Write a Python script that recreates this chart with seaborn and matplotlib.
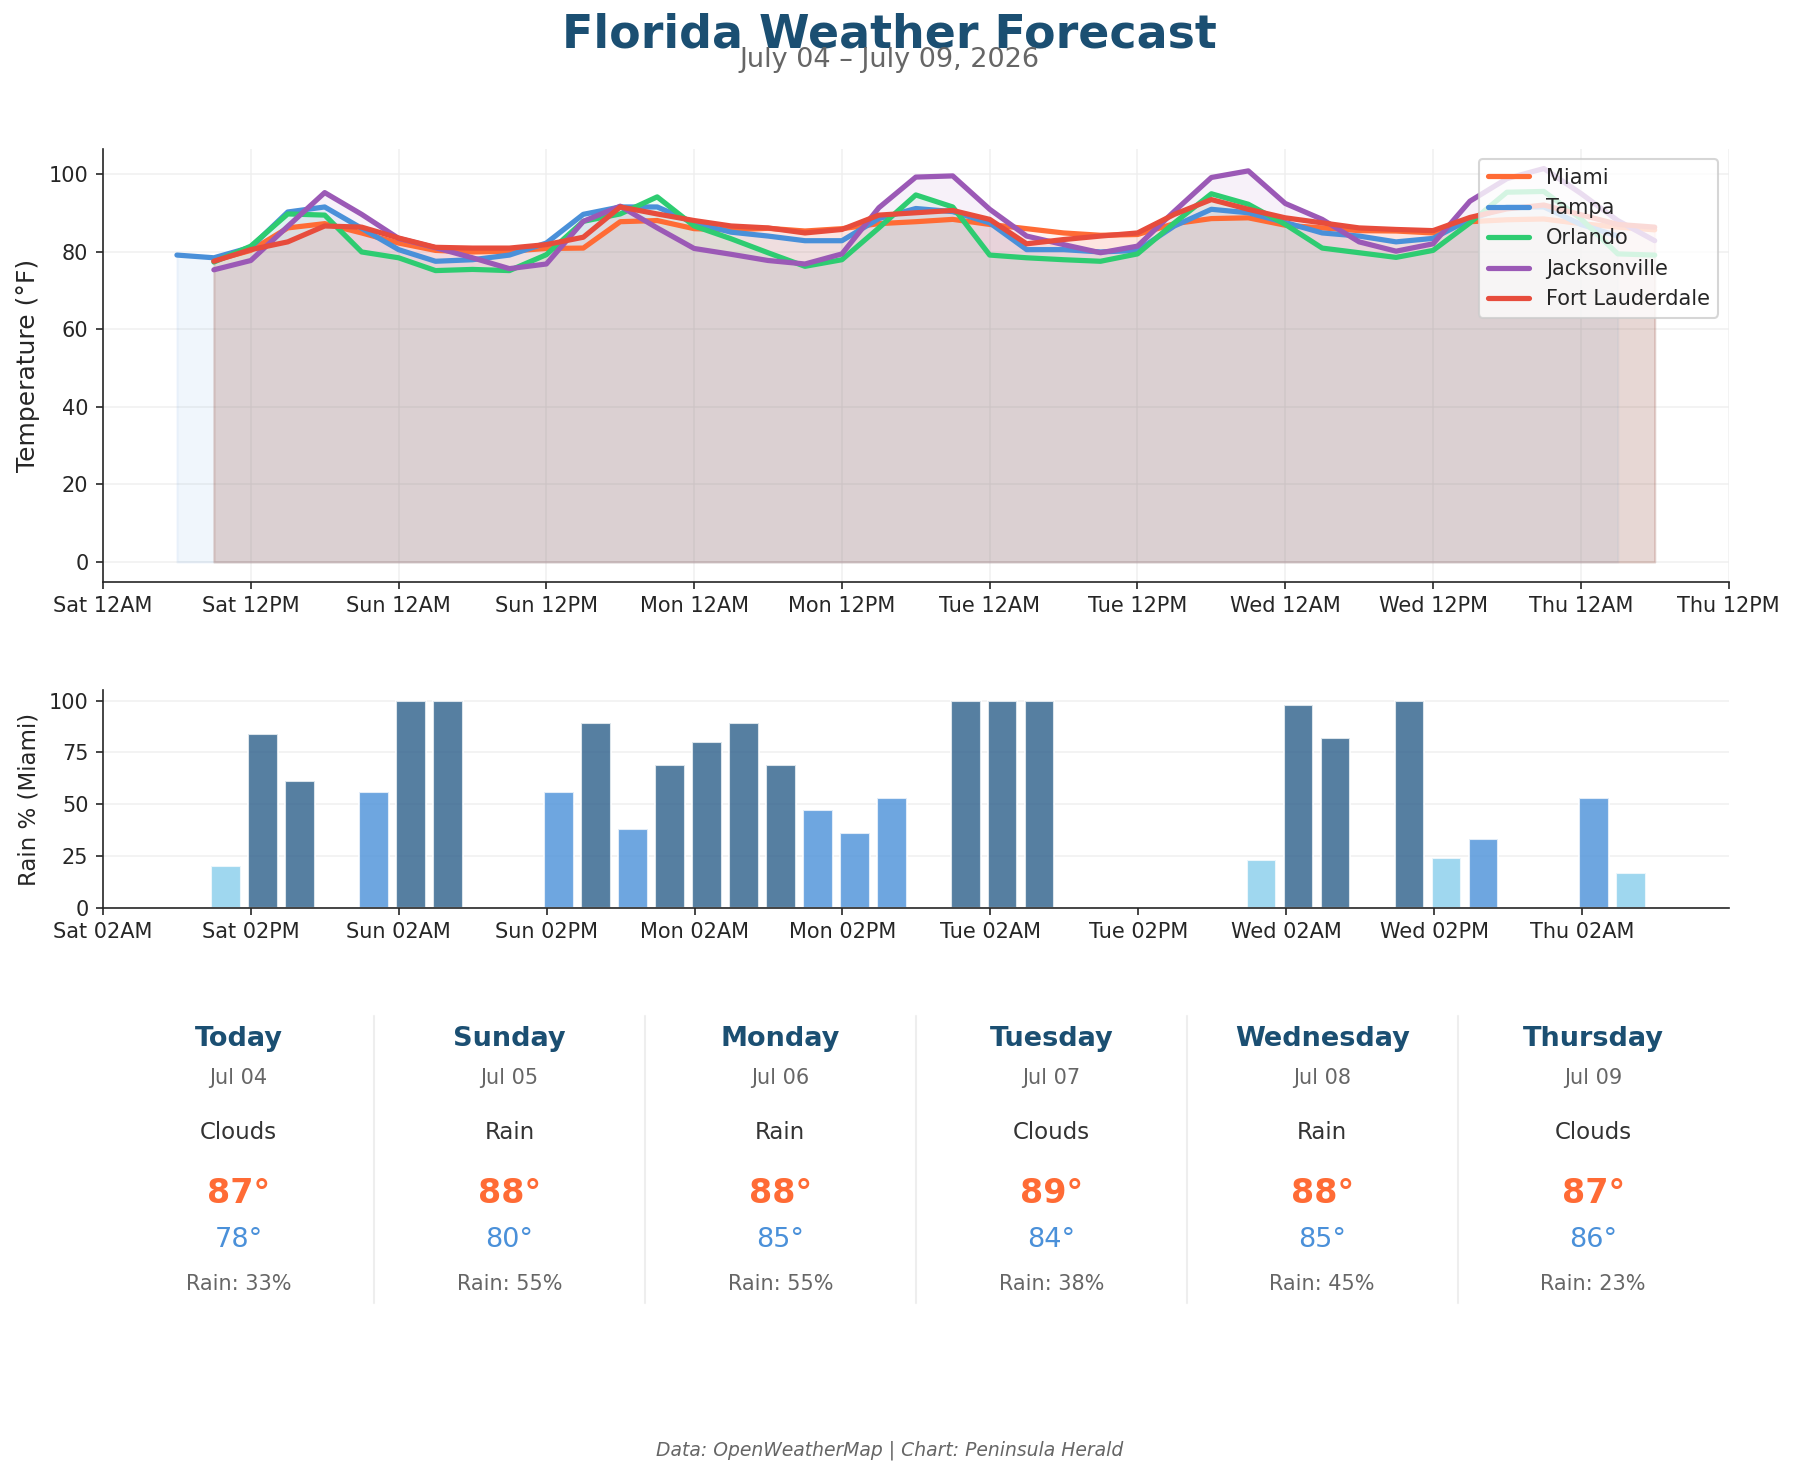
import numpy as np
import pandas as pd
import matplotlib
matplotlib.use("Agg")
import matplotlib.pyplot as plt
import seaborn as sns

# ---------------- data ----------------
cities = ["Miami", "Tampa", "Orlando", "Jacksonville", "Fort Lauderdale"]
city_colors = ["#FF6B35", "#4A90D9", "#2ECC71", "#9B59B6", "#E74C3C"]

# hours since Sat Jul 04 00:00 (3-hour forecast steps)
hours_main = list(range(9, 127, 3))      # Miami, Orlando, Jacksonville, Fort Lauderdale
hours_tampa = list(range(6, 124, 3))     # Tampa

miami = [77.7, 80.3, 86.1, 87.2, 84.8, 82.2, 80.3, 79.9, 80.1, 80.8,
         80.9, 87.7, 88.0, 85.9, 85.6, 86.0, 85.3, 85.9, 87.2, 87.7,
         88.3, 87.0, 85.9, 84.8, 84.2, 84.4, 87.2, 88.5, 88.7, 86.8,
         86.1, 85.4, 85.3, 84.8, 87.7, 88.2, 88.4, 87.2, 86.3, 85.6]
tampa = [79.1, 78.4, 81.1, 90.2, 91.5, 86.0, 80.5, 77.5, 77.9, 79.1,
         82.2, 89.6, 91.5, 91.5, 87.4, 85.0, 84.0, 82.8, 82.8, 88.5,
         91.1, 90.3, 87.4, 80.5, 80.5, 79.9, 80.3, 86.6, 90.9, 90.0,
         87.5, 84.8, 84.0, 82.5, 83.4, 88.3, 91.5, 91.5, 87.0, 84.0]
orlando = [77.3, 81.4, 89.7, 89.4, 79.9, 78.4, 75.1, 75.4, 75.1, 79.2,
           87.8, 89.7, 94.1, 86.6, 83.3, 79.7, 76.2, 77.9, 86.1, 94.6,
           91.5, 79.1, 78.4, 77.9, 77.5, 79.4, 87.4, 94.9, 92.2, 87.0,
           80.9, 79.7, 78.5, 80.3, 87.4, 95.3, 95.5, 88.5, 79.4, 79.1]
jacksonville = [75.3, 77.7, 86.5, 95.2, 89.6, 83.4, 81.0, 78.4, 75.6, 76.8,
                87.8, 91.7, 86.1, 80.8, 79.3, 77.7, 76.8, 79.4, 91.3, 99.2,
                99.5, 90.9, 84.0, 81.8, 79.7, 81.4, 90.4, 99.1, 100.8, 92.4,
                88.3, 82.5, 80.1, 82.0, 93.0, 98.8, 101.4, 95.0, 88.0, 82.8]
fort_lauderdale = [77.5, 80.5, 82.5, 86.6, 86.3, 83.5, 81.1, 80.9, 80.9, 81.8,
                   83.7, 91.5, 89.7, 88.0, 86.6, 86.1, 84.8, 85.7, 89.4, 90.0,
                   90.6, 88.3, 82.0, 83.1, 84.0, 84.8, 89.6, 93.4, 90.9, 88.7,
                   87.4, 86.1, 85.7, 85.4, 88.8, 91.0, 92.0, 89.5, 87.0, 86.3]

# Miami rain probability (%), same time steps as hours_main
rain_miami = [0, 20, 84, 61, 0, 56, 100, 100, 0, 0,
              56, 89, 38, 69, 80, 89, 69, 47, 36, 53,
              0, 100, 100, 100, 0, 0, 0, 0, 0, 23,
              98, 82, 0, 100, 24, 33, 0, 0, 53, 17]

temp_ticks = list(range(0, 133, 12))
temp_tick_labels = ["Sat 12AM", "Sat 12PM", "Sun 12AM", "Sun 12PM", "Mon 12AM", "Mon 12PM",
                    "Tue 12AM", "Tue 12PM", "Wed 12AM", "Wed 12PM", "Thu 12AM", "Thu 12PM"]
rain_ticks = list(range(2, 123, 12))
rain_tick_labels = ["Sat 02AM", "Sat 02PM", "Sun 02AM", "Sun 02PM", "Mon 02AM", "Mon 02PM",
                    "Tue 02AM", "Tue 02PM", "Wed 02AM", "Wed 02PM", "Thu 02AM"]

card_days = ["Today", "Sunday", "Monday", "Tuesday", "Wednesday", "Thursday"]
card_dates = ["Jul 04", "Jul 05", "Jul 06", "Jul 07", "Jul 08", "Jul 09"]
card_conditions = ["Clouds", "Rain", "Rain", "Clouds", "Rain", "Clouds"]
card_highs = [87, 88, 88, 89, 88, 87]
card_lows = [78, 80, 85, 84, 85, 86]
card_rain = [33, 55, 55, 38, 45, 23]

title = "Florida Weather Forecast"
subtitle = "July 04 \u2013 July 09, 2026"
footer = "Data: OpenWeatherMap | Chart: Peninsula Herald"

# ---------------- style ----------------
sns.set_style("ticks")
plt.rcParams["font.family"] = ["DejaVu Sans"]

TITLE_COLOR = "#1B4F72"
HIGH_COLOR = "#FF6B35"
LOW_COLOR = "#4A90D9"
GRAY = "#666666"

fig = plt.figure(figsize=(1795 / 150, 1474 / 150), dpi=150)
fig.patch.set_facecolor("white")

ax1 = fig.add_axes([0.0574, 0.6054, 0.9056, 0.2936])
ax2 = fig.add_axes([0.0574, 0.3841, 0.9056, 0.1476])

# ---------------- temperature panel ----------------
series = {
    "Miami": (hours_main, miami),
    "Tampa": (hours_tampa, tampa),
    "Orlando": (hours_main, orlando),
    "Jacksonville": (hours_main, jacksonville),
    "Fort Lauderdale": (hours_main, fort_lauderdale),
}
frames = []
for city in cities:
    hx, ty = series[city]
    frames.append(pd.DataFrame({"hour": hx, "temp": ty, "city": city}))
temp_df = pd.concat(frames, ignore_index=True)

for city, col in zip(cities, city_colors):
    d = temp_df[temp_df["city"] == city]
    ax1.fill_between(d["hour"], d["temp"], 0, color=col, alpha=0.08)

sns.lineplot(data=temp_df, x="hour", y="temp", hue="city", hue_order=cities,
             palette=dict(zip(cities, city_colors)), linewidth=2.5, ax=ax1,
             estimator=None, sort=True)

ax1.set_xlim(0, 132)
ax1.set_xticks(temp_ticks)
ax1.set_xticklabels(temp_tick_labels, fontsize=10)
ax1.set_yticks(range(0, 101, 20))
ax1.tick_params(axis="y", labelsize=10)
ax1.set_xlabel("")
ax1.set_ylabel("Temperature (\u00b0F)", fontsize=12)
ax1.grid(True, color="#eeeeee", linewidth=0.8, alpha=0.8)
ax1.set_axisbelow(True)
sns.despine(ax=ax1)
leg = ax1.legend(loc="upper right", fontsize=10, title=None, framealpha=0.8)
for lh in leg.get_lines():
    lh.set_linewidth(2.5)

# ---------------- rain panel ----------------
rain_df = pd.DataFrame({"hour": hours_main, "rain": rain_miami})
rain_df["level"] = np.where(rain_df["rain"] < 30, "light",
                            np.where(rain_df["rain"] <= 60, "medium", "heavy"))
rain_palette = {"light": "#87CEEB", "medium": "#4A90D9", "heavy": "#2C5F8A"}
sns.barplot(data=rain_df, x="hour", y="rain", hue="level", palette=rain_palette,
            native_scale=True, dodge=False, legend=False, saturation=1,
            alpha=0.8, width=0.8, ax=ax2)
ax2.set_xlim(2, 133.9)
ax2.set_xticks(rain_ticks)
ax2.set_xticklabels(rain_tick_labels, fontsize=10)
ax2.set_yticks([0, 25, 50, 75, 100])
ax2.tick_params(axis="y", labelsize=10)
ax2.set_xlabel("")
ax2.set_ylabel("Rain % (Miami)", fontsize=11)
ax2.yaxis.grid(True, color="#eeeeee", linewidth=0.8, alpha=0.8)
ax2.set_axisbelow(True)
sns.despine(ax=ax2)

# ---------------- titles ----------------
CX = 0.4955
fig.text(CX, 0.976, title, ha="center", va="center", fontsize=22,
         fontweight="bold", color=TITLE_COLOR)
fig.text(CX, 0.9595, subtitle, ha="center", va="center", fontsize=13, color=GRAY)

# ---------------- day cards ----------------
left, width = 0.0574, 0.9056
colw = width / 6
for i in range(6):
    cx = left + colw * (i + 0.5)
    fig.text(cx, 0.2948, card_days[i], ha="center", va="center", fontsize=13,
             fontweight="bold", color=TITLE_COLOR)
    fig.text(cx, 0.2684, card_dates[i], ha="center", va="center", fontsize=10, color=GRAY)
    fig.text(cx, 0.2319, card_conditions[i], ha="center", va="center", fontsize=11,
             color="#333333")
    fig.text(cx, 0.1900, f"{card_highs[i]}\u00b0", ha="center", va="center", fontsize=16,
             fontweight="bold", color=HIGH_COLOR)
    fig.text(cx, 0.1589, f"{card_lows[i]}\u00b0", ha="center", va="center", fontsize=13,
             color=LOW_COLOR)
    fig.text(cx, 0.1286, f"Rain: {card_rain[i]}%", ha="center", va="center", fontsize=10,
             color=GRAY)
    if i > 0:
        xs = left + colw * i
        fig.add_artist(plt.Line2D([xs, xs], [0.1162, 0.311], transform=fig.transFigure,
                                  color="#eeeeee", linewidth=1))

fig.text(CX, 0.016, footer, ha="center", va="center", fontsize=9, style="italic",
         color=GRAY)

fig.savefig("out.png", dpi=150, facecolor="white")
